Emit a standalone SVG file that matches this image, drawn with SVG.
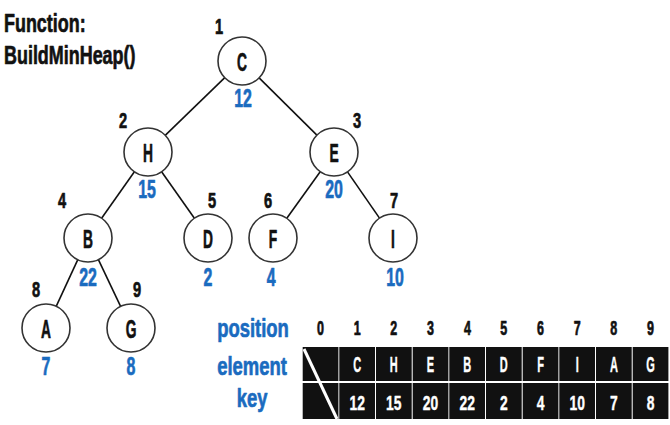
<svg xmlns="http://www.w3.org/2000/svg" width="670" height="425" viewBox="0 0 670 425">
  <style>
    text { font-family: "Liberation Sans", Arial, sans-serif; font-weight: bold; transform-box: fill-box; transform-origin: center; stroke-width: 0.7; stroke-linejoin: round; }
    /* condensed faces: horizontal squeeze per text kind */
    .title { font-size: 26px; fill: #111; stroke: #111; transform-origin: left center; transform: scaleX(0.69); }
    .node circle { fill: #fff; stroke: #333; stroke-width: 1.6; }
    .letter { font-size: 26.5px; fill: #111; stroke: #111; text-anchor: middle; transform: scaleX(0.52); }
    .idx { font-size: 21.5px; fill: #111; stroke: #111; text-anchor: middle; transform: scaleX(0.68); }
    .key { font-size: 26.5px; fill: #1a6bbf; stroke: #1a6bbf; text-anchor: middle; transform: scaleX(0.6); }
    .edges line { stroke: #111; stroke-width: 1.6; }
    .rowlabel { font-size: 26px; fill: #1a6bbf; stroke: #1a6bbf; text-anchor: middle; transform: scaleX(0.71); }
    .cell { fill: #111; }
    .celltext { font-size: 22px; fill: #fff; stroke: #fff; stroke-width: 0.4; text-anchor: middle; transform: scaleX(0.5); }
    .cellnum { font-size: 21px; fill: #fff; stroke: #fff; stroke-width: 0.4; text-anchor: middle; transform: scaleX(0.66); }
    .pos { font-size: 19.5px; fill: #111; stroke: #111; text-anchor: middle; transform: scaleX(0.64); }
  </style>

  <!-- heading -->
  <text class="title" x="4" y="32">Function:</text>
  <text class="title" x="4" y="64">BuildMinHeap()</text>

  <!-- tree edges -->
  <g id="edges" class="edges">
    <line x1="224.8" y1="77.7" x2="165.2" y2="135.3"/>
    <line x1="259.1" y1="77.9" x2="316.9" y2="135.1"/>
    <line x1="134.4" y1="171.8" x2="101.6" y2="218.2"/>
    <line x1="161.6" y1="171.8" x2="194.4" y2="218.2"/>
    <line x1="320.2" y1="171.7" x2="286.8" y2="218.3"/>
    <line x1="347.5" y1="171.9" x2="379.5" y2="218.1"/>
    <line x1="77.8" y1="259.7" x2="56.2" y2="306.3"/>
    <line x1="98.4" y1="259.6" x2="120.6" y2="306.4"/>
  </g>

  <!-- heap nodes: position label, element, key -->
  <g id="node-C" class="node">
    <circle cx="242" cy="61" r="24"/>
    <text class="letter" x="242" y="71">C</text>
    <text class="idx" x="219" y="34">1</text>
    <text class="key" x="243" y="107">12</text>
  </g>
  <g id="node-H" class="node">
    <circle cx="148" cy="152" r="24"/>
    <text class="letter" x="148" y="162">H</text>
    <text class="idx" x="123" y="128">2</text>
    <text class="key" x="147" y="198">15</text>
  </g>
  <g id="node-E" class="node">
    <circle cx="334" cy="152" r="24"/>
    <text class="letter" x="334" y="162">E</text>
    <text class="idx" x="357" y="128">3</text>
    <text class="key" x="334" y="198">20</text>
  </g>
  <g id="node-B" class="node">
    <circle cx="88" cy="238" r="24"/>
    <text class="letter" x="88" y="248">B</text>
    <text class="idx" x="62" y="208">4</text>
    <text class="key" x="88" y="286.5">22</text>
  </g>
  <g id="node-D" class="node">
    <circle cx="208" cy="238" r="24"/>
    <text class="letter" x="208" y="248">D</text>
    <text class="idx" x="212" y="208">5</text>
    <text class="key" x="208" y="286.5">2</text>
  </g>
  <g id="node-F" class="node">
    <circle cx="273" cy="238" r="24"/>
    <text class="letter" x="273" y="248">F</text>
    <text class="idx" x="268" y="208">6</text>
    <text class="key" x="271" y="286.5">4</text>
  </g>
  <g id="node-I" class="node">
    <circle cx="393" cy="238" r="24"/>
    <text class="letter" x="393" y="248">I</text>
    <text class="idx" x="394" y="208">7</text>
    <text class="key" x="395" y="286.5">10</text>
  </g>
  <g id="node-A" class="node">
    <circle cx="46" cy="328" r="24"/>
    <text class="letter" x="46" y="338">A</text>
    <text class="idx" x="36" y="297">8</text>
    <text class="key" x="46" y="375">7</text>
  </g>
  <g id="node-G" class="node">
    <circle cx="131" cy="328" r="24"/>
    <text class="letter" x="131" y="338">G</text>
    <text class="idx" x="137" y="297">9</text>
    <text class="key" x="131" y="375">8</text>
  </g>

  <!-- array representation -->
  <g id="array">
    <text class="rowlabel" x="253" y="337">position</text>
    <text class="rowlabel" x="252" y="375">element</text>
    <text class="rowlabel" x="252" y="407">key</text>

    <text class="pos" x="320.5" y="335.5">0</text>
    <text class="pos" x="357.2" y="335.5">1</text>
    <text class="pos" x="393.8" y="335.5">2</text>
    <text class="pos" x="430.5" y="335.5">3</text>
    <text class="pos" x="467.2" y="335.5">4</text>
    <text class="pos" x="503.8" y="335.5">5</text>
    <text class="pos" x="540.5" y="335.5">6</text>
    <text class="pos" x="577.2" y="335.5">7</text>
    <text class="pos" x="613.8" y="335.5">8</text>
    <text class="pos" x="650.5" y="335.5">9</text>

    <!-- cells -->
    <g>
      <rect class="cell" x="302.7" y="347" width="35.7" height="34"/>
      <rect class="cell" x="302.7" y="383" width="35.7" height="36"/>
      <rect class="cell" x="339.3" y="347" width="35.7" height="34"/>
      <rect class="cell" x="339.3" y="383" width="35.7" height="36"/>
      <rect class="cell" x="376" y="347" width="35.7" height="34"/>
      <rect class="cell" x="376" y="383" width="35.7" height="36"/>
      <rect class="cell" x="412.7" y="347" width="35.7" height="34"/>
      <rect class="cell" x="412.7" y="383" width="35.7" height="36"/>
      <rect class="cell" x="449.3" y="347" width="35.7" height="34"/>
      <rect class="cell" x="449.3" y="383" width="35.7" height="36"/>
      <rect class="cell" x="486" y="347" width="35.7" height="34"/>
      <rect class="cell" x="486" y="383" width="35.7" height="36"/>
      <rect class="cell" x="522.7" y="347" width="35.7" height="34"/>
      <rect class="cell" x="522.7" y="383" width="35.7" height="36"/>
      <rect class="cell" x="559.3" y="347" width="35.7" height="34"/>
      <rect class="cell" x="559.3" y="383" width="35.7" height="36"/>
      <rect class="cell" x="596" y="347" width="35.7" height="34"/>
      <rect class="cell" x="596" y="383" width="35.7" height="36"/>
      <rect class="cell" x="632.7" y="347" width="35.7" height="34"/>
      <rect class="cell" x="632.7" y="383" width="35.7" height="36"/>
    </g>
    <!-- unused slot 0 -->
    <line x1="304" y1="349" x2="337" y2="419" stroke="#fff" stroke-width="3"/>

    <text class="celltext" x="357.2" y="372.5">C</text>
    <text class="celltext" x="393.8" y="372.5">H</text>
    <text class="celltext" x="430.5" y="372.5">E</text>
    <text class="celltext" x="467.2" y="372.5">B</text>
    <text class="celltext" x="503.8" y="372.5">D</text>
    <text class="celltext" x="540.5" y="372.5">F</text>
    <text class="celltext" x="577.2" y="372.5">I</text>
    <text class="celltext" x="613.8" y="372.5">A</text>
    <text class="celltext" x="650.5" y="372.5">G</text>

    <text class="cellnum" x="357.2" y="410">12</text>
    <text class="cellnum" x="393.8" y="410">15</text>
    <text class="cellnum" x="430.5" y="410">20</text>
    <text class="cellnum" x="467.2" y="410">22</text>
    <text class="cellnum" x="503.8" y="410">2</text>
    <text class="cellnum" x="540.5" y="410">4</text>
    <text class="cellnum" x="577.2" y="410">10</text>
    <text class="cellnum" x="613.8" y="410">7</text>
    <text class="cellnum" x="650.5" y="410">8</text>
  </g>
</svg>
